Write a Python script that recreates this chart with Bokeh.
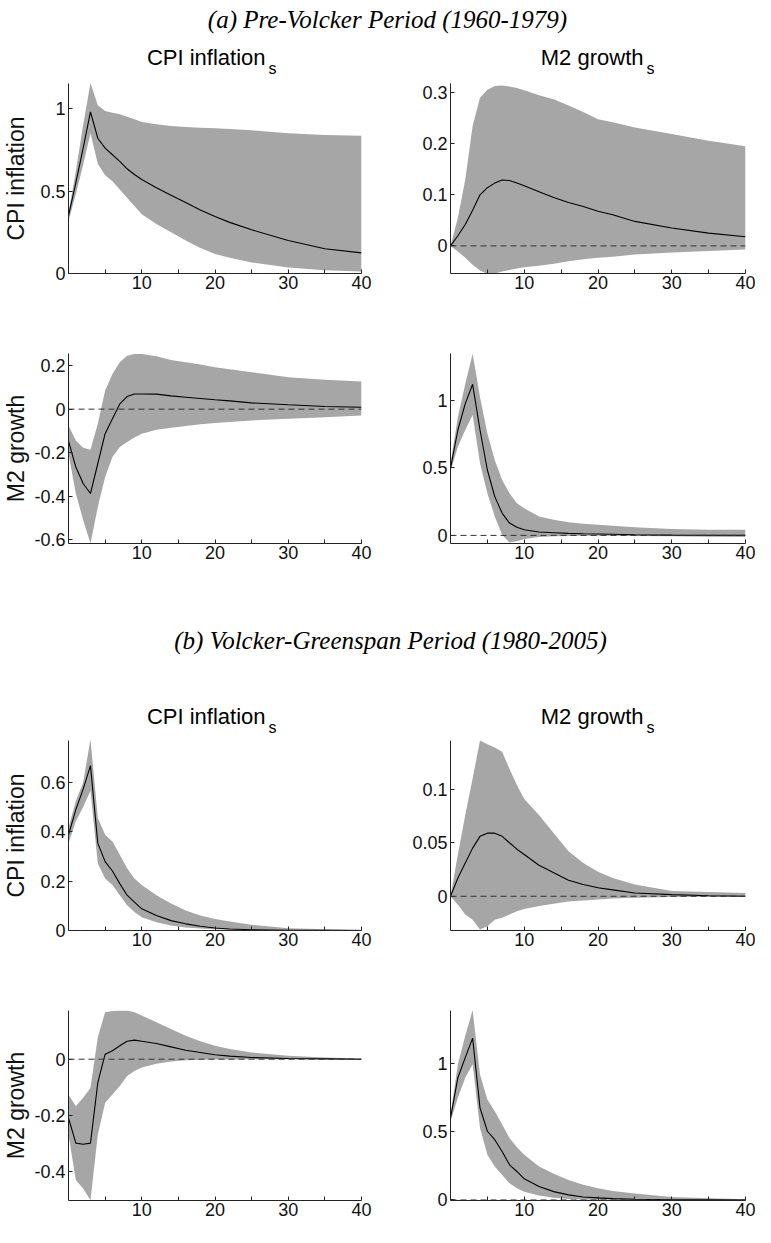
from bokeh.plotting import figure
from bokeh.layouts import column, row
from bokeh.models import Range1d, FixedTicker, CustomJSTickFormatter, Span
from bokeh.core.properties import value
from bokeh.embed import file_html
from bokeh.resources import INLINE

# ---------------- data ----------------
horizon = [0, 1, 2, 3, 4, 5, 6, 7, 8, 9, 10, 12, 14, 16, 18, 20, 22, 25, 30, 35, 40]

title_a = "(a) Pre-Volcker Period (1960-1979)"
title_b = "(b) Volcker-Greenspan Period (1980-2005)"
shock_names = ["CPI inflation", "M2 growth"]
shock_sub = "s"
response_names = ["CPI inflation", "M2 growth"]

# Pre-Volcker: CPI inflation response to CPI inflation shock
pre_cpi_cpi_mid = [0.35, 0.55, 0.76, 0.98, 0.82, 0.76, 0.72, 0.68, 0.635, 0.60, 0.57, 0.52, 0.475, 0.43, 0.385, 0.345, 0.31, 0.265, 0.20, 0.15, 0.125]
pre_cpi_cpi_hi = [0.37, 0.62, 0.90, 1.155, 1.02, 0.985, 0.975, 0.965, 0.95, 0.935, 0.918, 0.905, 0.895, 0.888, 0.884, 0.88, 0.876, 0.868, 0.85, 0.84, 0.835]
pre_cpi_cpi_lo = [0.32, 0.48, 0.66, 0.85, 0.665, 0.595, 0.56, 0.51, 0.46, 0.41, 0.36, 0.30, 0.25, 0.20, 0.155, 0.118, 0.095, 0.067, 0.036, 0.02, 0.012]

# Pre-Volcker: CPI inflation response to M2 growth shock
pre_cpi_m2_mid = [0, 0.02, 0.042, 0.07, 0.10, 0.114, 0.123, 0.129, 0.128, 0.123, 0.118, 0.106, 0.095, 0.085, 0.077, 0.068, 0.061, 0.048, 0.035, 0.025, 0.018]
pre_cpi_m2_hi = [0, 0.055, 0.13, 0.235, 0.29, 0.306, 0.313, 0.314, 0.312, 0.309, 0.305, 0.295, 0.287, 0.275, 0.262, 0.248, 0.242, 0.232, 0.219, 0.206, 0.195]
pre_cpi_m2_lo = [0, -0.011, -0.023, -0.037, -0.048, -0.055, -0.054, -0.050, -0.047, -0.044, -0.042, -0.039, -0.035, -0.03, -0.026, -0.023, -0.021, -0.017, -0.013, -0.010, -0.007]

# Pre-Volcker: M2 growth response to CPI inflation shock
pre_m2_cpi_mid = [-0.147, -0.266, -0.342, -0.388, -0.25, -0.113, -0.044, 0.024, 0.058, 0.070, 0.070, 0.069, 0.061, 0.055, 0.049, 0.043, 0.038, 0.029, 0.020, 0.012, 0.009]
pre_m2_cpi_hi = [-0.075, -0.144, -0.177, -0.187, -0.067, 0.086, 0.162, 0.216, 0.246, 0.254, 0.254, 0.243, 0.226, 0.216, 0.205, 0.193, 0.183, 0.17, 0.147, 0.135, 0.127]
pre_m2_cpi_lo = [-0.205, -0.388, -0.51, -0.618, -0.45, -0.312, -0.22, -0.174, -0.151, -0.13, -0.113, -0.095, -0.085, -0.077, -0.07, -0.064, -0.059, -0.052, -0.044, -0.037, -0.029]

# Pre-Volcker: M2 growth response to M2 growth shock
pre_m2_m2_mid = [0.496, 0.78, 0.975, 1.118, 0.78, 0.484, 0.287, 0.165, 0.091, 0.061, 0.042, 0.025, 0.02, 0.015, 0.012, 0.01, 0.008, 0.005, 0.002, 0.001, 0.001]
pre_m2_m2_hi = [0.533, 0.877, 1.12, 1.344, 1.025, 0.754, 0.558, 0.41, 0.312, 0.238, 0.20, 0.14, 0.115, 0.098, 0.087, 0.079, 0.072, 0.061, 0.047, 0.042, 0.042]
pre_m2_m2_lo = [0.472, 0.656, 0.78, 0.89, 0.533, 0.312, 0.14, 0.005, -0.052, -0.044, -0.027, -0.012, -0.007, -0.004, -0.003, -0.002, -0.003, -0.004, -0.007, -0.01, -0.012]

# Volcker-Greenspan: CPI inflation response to CPI inflation shock
vg_cpi_cpi_mid = [0.388, 0.49, 0.573, 0.668, 0.354, 0.279, 0.241, 0.19, 0.143, 0.115, 0.088, 0.061, 0.04, 0.027, 0.017, 0.01, 0.006, 0.003, 0.001, 0.0005, 0.0]
vg_cpi_cpi_hi = [0.416, 0.525, 0.60, 0.775, 0.457, 0.388, 0.361, 0.307, 0.252, 0.211, 0.184, 0.143, 0.109, 0.081, 0.061, 0.047, 0.036, 0.023, 0.009, 0.005, 0.003]
vg_cpi_cpi_lo = [0.354, 0.443, 0.50, 0.566, 0.272, 0.211, 0.184, 0.143, 0.102, 0.075, 0.054, 0.033, 0.02, 0.012, 0.008, 0.005, 0.003, 0.0, 0.0, 0.0, 0.0]

# Volcker-Greenspan: CPI inflation response to M2 growth shock
vg_cpi_m2_mid = [0, 0.017, 0.031, 0.045, 0.056, 0.059, 0.059, 0.056, 0.05, 0.044, 0.039, 0.029, 0.022, 0.015, 0.011, 0.008, 0.006, 0.003, 0.0015, 0.0005, 0]
vg_cpi_m2_hi = [0, 0.039, 0.076, 0.11, 0.1455, 0.142, 0.139, 0.135, 0.119, 0.104, 0.091, 0.076, 0.059, 0.042, 0.031, 0.023, 0.017, 0.011, 0.005, 0.004, 0.003]
vg_cpi_m2_lo = [0, -0.008, -0.017, -0.022, -0.031, -0.028, -0.022, -0.020, -0.017, -0.014, -0.012, -0.009, -0.007, -0.005, -0.004, -0.003, -0.002, -0.0015, -0.0006, -0.0004, -0.0003]

# Volcker-Greenspan: M2 growth response to CPI inflation shock
vg_m2_cpi_mid = [-0.21, -0.30, -0.304, -0.30, -0.084, 0.018, 0.030, 0.048, 0.064, 0.068, 0.064, 0.056, 0.044, 0.032, 0.024, 0.016, 0.011, 0.006, 0.0024, 0.001, 0]
vg_m2_cpi_hi = [-0.126, -0.168, -0.138, -0.102, 0.078, 0.168, 0.172, 0.174, 0.174, 0.168, 0.156, 0.132, 0.108, 0.084, 0.064, 0.048, 0.036, 0.024, 0.012, 0.006, 0.0024]
vg_m2_cpi_lo = [-0.27, -0.432, -0.462, -0.504, -0.27, -0.156, -0.126, -0.096, -0.06, -0.042, -0.030, -0.016, -0.008, -0.004, -0.002, -0.001, -0.001, -0.0005, -0.0005, -0.0005, -0.0005]

# Volcker-Greenspan: M2 growth response to M2 growth shock
vg_m2_m2_mid = [0.60, 0.897, 1.044, 1.187, 0.676, 0.504, 0.442, 0.356, 0.258, 0.209, 0.155, 0.098, 0.061, 0.037, 0.022, 0.015, 0.01, 0.005, 0.002, 0.001, 0]
vg_m2_m2_hi = [0.627, 0.995, 1.204, 1.393, 0.921, 0.737, 0.651, 0.553, 0.455, 0.386, 0.332, 0.246, 0.192, 0.147, 0.111, 0.086, 0.066, 0.047, 0.022, 0.012, 0.005]
vg_m2_m2_lo = [0.577, 0.749, 0.897, 0.995, 0.528, 0.332, 0.246, 0.184, 0.123, 0.086, 0.061, 0.032, 0.017, 0.007, 0.004, 0.002, 0.001, 0.0, 0.0, 0.0, 0.0]

# axis settings per panel
x_ticks = [10, 20, 30, 40]
x_minor_ticks = [5, 15, 25, 35]
pre_cpi_cpi_yr, pre_cpi_cpi_yt = (0.0, 1.152), [0, 0.5, 1]
pre_cpi_m2_yr, pre_cpi_m2_yt = (-0.054, 0.318), [0, 0.1, 0.2, 0.3]
pre_m2_cpi_yr, pre_m2_cpi_yt = (-0.618, 0.256), [-0.6, -0.4, -0.2, 0, 0.2]
pre_m2_m2_yr, pre_m2_m2_yt = (-0.06, 1.346), [0, 0.5, 1]
vg_cpi_cpi_yr, vg_cpi_cpi_yt = (0.0, 0.77), [0, 0.2, 0.4, 0.6]
vg_cpi_m2_yr, vg_cpi_m2_yt = (-0.032, 0.1456), [0, 0.05, 0.1]
vg_m2_cpi_yr, vg_m2_cpi_yt = (-0.505, 0.174), [-0.4, -0.2, 0]
vg_m2_m2_yr, vg_m2_m2_yt = (-0.004, 1.39), [0, 0.5, 1]

# ---------------- styling ----------------
SANS = "Liberation Sans"
SERIF = "Liberation Serif"
BAND = "#a6a6a6"
AXIS = "#222222"
PAGE_W = 755
FRAME_W = 295
FRAME_H = 190
L_LEFT, L_RIGHT = 66, 20
R_LEFT, R_RIGHT = 69, 10


def panel(mid, lo, hi, yr, yt, ylabel, left, right, top, bottom, label_standoff=10):
    p = figure(width=left + FRAME_W + right, height=top + FRAME_H + bottom,
               x_range=Range1d(0, 40), y_range=Range1d(*yr),
               output_backend="svg", toolbar_location=None,
               min_border_left=left, min_border_right=right,
               min_border_top=top, min_border_bottom=bottom)
    p.outline_line_color = None
    p.grid.visible = False
    p.background_fill_color = "white"
    p.border_fill_color = "white"
    p.varea(x=horizon, y1=lo, y2=hi, fill_color=BAND, fill_alpha=1.0)
    p.add_layout(Span(location=0, dimension="width", line_color="#333333",
                      line_width=1, line_dash="6 4"))
    p.line(x=horizon, y=mid, line_color="black", line_width=1.1)

    xa = p.xaxis[0]
    xa.ticker = FixedTicker(ticks=x_ticks, minor_ticks=x_minor_ticks)
    ya = p.yaxis[0]
    ya.ticker = FixedTicker(ticks=yt, minor_ticks=[])
    ya.formatter = CustomJSTickFormatter(code="return String(parseFloat(tick.toFixed(6)));")
    for ax in (xa, ya):
        ax.axis_line_color = AXIS
        ax.axis_line_width = 1
        ax.major_tick_line_color = AXIS
        ax.minor_tick_line_color = AXIS
        ax.major_tick_in = 4
        ax.major_tick_out = 0
        ax.minor_tick_in = 4
        ax.minor_tick_out = 0
        ax.major_label_text_font = SANS
        ax.major_label_text_font_size = "18px"
        ax.major_label_text_color = "#111111"
    xa.major_label_standoff = 2
    ya.major_label_standoff = 3
    if ylabel:
        ya.axis_label = ylabel
        ya.axis_label_text_font = SANS
        ya.axis_label_text_font_size = "23px"
        ya.axis_label_text_font_style = "normal"
        ya.axis_label_text_color = "#111111"
        ya.axis_label_standoff = label_standoff
    return p


def header(h, title, title_x, title_base_y, col_base_y, sub_base_y):
    p = figure(width=PAGE_W, height=h, x_range=Range1d(0, PAGE_W), y_range=Range1d(h, 0),
               output_backend="svg", toolbar_location=None,
               x_axis_location=None, y_axis_location=None, min_border=0)
    p.outline_line_color = None
    p.grid.visible = False
    p.text(x=[title_x], y=[title_base_y], text=[title], text_font=value(SERIF),
           text_font_style="italic", text_font_size="25px", text_align="center",
           text_baseline="alphabetic", text_color="black")
    # column titles with subscript
    ends = [265, 643]
    p.text(x=ends, y=[col_base_y] * 2, text=shock_names, text_font=value(SANS),
           text_font_size="22px", text_align="right", text_baseline="alphabetic",
           text_color="black")
    p.text(x=[e + 3 for e in ends], y=[sub_base_y] * 2, text=[shock_sub] * 2,
           text_font=value(SANS), text_font_size="16px", text_align="left",
           text_baseline="alphabetic", text_color="black")
    return p


head_a = header(83, title_a, 387, 19, 57, 68)
r1l = panel(pre_cpi_cpi_mid, pre_cpi_cpi_lo, pre_cpi_cpi_hi, pre_cpi_cpi_yr, pre_cpi_cpi_yt,
            response_names[0], L_LEFT, L_RIGHT, 0, 40, 8)
r1r = panel(pre_cpi_m2_mid, pre_cpi_m2_lo, pre_cpi_m2_hi, pre_cpi_m2_yr, pre_cpi_m2_yt,
            None, R_LEFT, R_RIGHT, 0, 40)
r2l = panel(pre_m2_cpi_mid, pre_m2_cpi_lo, pre_m2_cpi_hi, pre_m2_cpi_yr, pre_m2_cpi_yt,
            response_names[1], L_LEFT, L_RIGHT, 40, 37, 2)
r2r = panel(pre_m2_m2_mid, pre_m2_m2_lo, pre_m2_m2_hi, pre_m2_m2_yr, pre_m2_m2_yt,
            None, R_LEFT, R_RIGHT, 40, 37)

head_b = header(160, title_b, 390, 60, 136, 147)
r3l = panel(vg_cpi_cpi_mid, vg_cpi_cpi_lo, vg_cpi_cpi_hi, vg_cpi_cpi_yr, vg_cpi_cpi_yt,
            response_names[0], L_LEFT, L_RIGHT, 0, 40, 8)
r3r = panel(vg_cpi_m2_mid, vg_cpi_m2_lo, vg_cpi_m2_hi, vg_cpi_m2_yr, vg_cpi_m2_yt,
            None, R_LEFT, R_RIGHT, 0, 40)
r4l = panel(vg_m2_cpi_mid, vg_m2_cpi_lo, vg_m2_cpi_hi, vg_m2_cpi_yr, vg_m2_cpi_yt,
            response_names[1], L_LEFT, L_RIGHT, 40, 25, 2)
r4r = panel(vg_m2_m2_mid, vg_m2_m2_lo, vg_m2_m2_hi, vg_m2_m2_yr, vg_m2_m2_yt,
            None, R_LEFT, R_RIGHT, 40, 25)

layout = column(head_a, row(r1l, r1r), row(r2l, r2r), head_b,
                row(r3l, r3r), row(r4l, r4r))

open("out.html", "w").write(file_html(layout, INLINE))
